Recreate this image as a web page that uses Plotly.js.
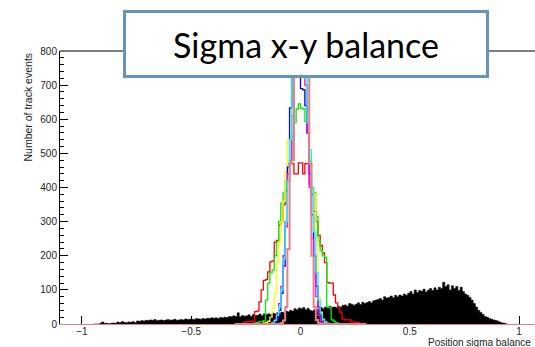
<!DOCTYPE html>
<html>
<head>
<meta charset="utf-8">
<script src="https://cdn.plot.ly/plotly-3.0.1.min.js"></script>
<style>
html,body{margin:0;padding:0;overflow:hidden;background:#fff;}
#chart{width:560px;height:347px;}
</style>
</head>
<body>
<div id="chart"></div>
<script>
// ---- data ----
const binWidth = 0.01;
const blackStart = -0.95;
const blackCounts = [
0,0,0,2,6, 2,2,1,2,3, 2,6,4,7,5, 4,6,5,7,4, 9,8,10,9,11, 10,12,11,13,10,
11,12,10,12,13, 11,12,14,11,12, 13,12,15,13,14, 14,13,16,15,14, 16,15,17,16,18,
17,18,16,19,18, 20,19,22,21,24, 22,33,21,25,23, 24,27,22,28,25, 26,29,24,30,28,
30,27,32,29,33, 31,35,33,38,36, 40,38,45,42,47, 45,48,42,46,40, 38,42,40,44,48,
45,50,47,52,49, 50,48,52,50,55, 56,52,60,58,55, 58,62,57,64,60, 63,66,62,68,70,
72,75,70,80,76, 78,82,77,84,80, 85,82,88,84,90, 95,88,100,92,98, 96,102,94,100,104,
98,106,100,108,104, 122,110,115,100,112, 104,110,98,108,95, 88,84,78,70,60,
50,40,34,28,22, 20,16,14,12,10, 8,5,3,2,0
];
const colStart = -0.30;
const redCounts = [0,0,1,2,5,7,7,8,7,36, 38,65,100,128,130,153,182,185,240,245, 290,300,350,390,420,470,470,440,440,472, 472,440,470,470,410,380,330,300,260,230, 208,180,122,120,120,85,62,48,35,14, 12,12,12,6,6,5,5,2,0,0];
const greenCounts = [0,0,0,0,0,0,0,0,1,3, 5,7,7,10,70,120,150,158,200,240, 300,355,384,420,470,478,550,590,630,645, 632,630,593,560,480,400,384,315,245,215, 200,195,50,48,12,8,4,2,0,0, 0,0,0,0,0,0,0,0,0,0];
const yellowCounts = [0,0,0,0,0,0,0,0,0,0, 0,0,1,3,5,8,20,45,90,180, 240,300,360,450,540,620,700,750,780,790, 760,720,660,580,490,400,380,250,80,35, 14,6,2,0,0,0,0,0,0,0, 0,0,0,0,0,0,0,0,0,0];
const blueCounts = [0,0,0,0,0,0,0,0,0,0, 0,0,0,0,0,0,0,2,6,15, 40,90,170,300,460,633,780,840,860,820, 690,686,640,560,440,320,200,110,50,20, 8,3,0,0,0,0,0,0,0,0, 0,0,0,0,0,0,0,0,0,0];
const magentaCounts = [0,0,0,0,0,0,0,0,0,0, 0,0,0,0,0,0,2,5,12,30, 60,110,200,285,440,480,610,760,850,880, 860,800,700,560,400,250,150,80,25,10, 4,1,0,0,0,0,0,0,0,0, 0,0,0,0,0,0,0,0,0,0];
const cyanCounts = [0,0,0,0,0,0,0,0,0,0, 0,0,0,0,0,0,1,4,10,25, 50,100,190,300,420,540,740,830,880,900, 870,820,720,590,510,400,270,150,70,30, 12,5,2,0,0,0,0,0,0,0, 0,0,0,0,0,0,0,0,0,0];
const salmonCounts = [0,0,0,0,0,0,0,0,0,0, 0,0,0,0,0,0,0,0,0,0, 1,3,10,50,220,470,480,800,920,950, 950,920,850,760,470,200,50,12,4,1, 0,0,0,0,0,0,0,0,0,0, 0,0,0,0,0,0,0,0,0,0];
const xTickVals = [-1, -0.5, 0, 0.5, 1];
const xTickText = ['\u22121', '\u22120.5', '0', '0.5', '1'];
const titleText = 'Sigma x-y balance';
const xTitle = 'Position sigma balance';
const yTitle = 'Number of track events';

// ---- build step outlines from bin edges ----
function steps(start, counts) {
  const xs = [], ys = [];
  for (let i = 0; i < counts.length; i++) {
    xs.push(+(start + i * binWidth).toFixed(4));
    ys.push(counts[i]);
  }
  xs.push(+(start + counts.length * binWidth).toFixed(4));
  ys.push(counts[counts.length - 1]);
  return {xs, ys};
}

const traces = [];
const b = steps(blackStart, blackCounts);
traces.push({type:'scatter', mode:'lines', x:b.xs, y:b.ys, line:{shape:'hv', color:'#000', width:0.5},
  fill:'tozeroy', fillcolor:'#000', hoverinfo:'skip'});

const series = [
  {c: redCounts, col: '#ff0000', w: 1.3},
  {c: greenCounts, col: '#00ee00', w: 1.3},
  {c: yellowCounts, col: '#ffff00', w: 1.3},
  {c: blueCounts, col: '#0000ff', w: 1.3},
  {c: magentaCounts, col: '#ff00ff', w: 1.3},
  {c: cyanCounts, col: '#00ffff', w: 1.3},
  {c: salmonCounts, col: 'rgb(232,128,128)', w: 2}
];
series.forEach(s => {
  const d = steps(colStart, s.c);
  traces.push({type:'scatter', mode:'lines', x:d.xs, y:d.ys, line:{shape:'hv', color:s.col, width:s.w}, hoverinfo:'skip'});
});

const tickFont = {family:'Liberation Sans, Arial, sans-serif', size:10, color:'#222'};

const layout = {
  width:560, height:347,
  margin:{l:60, r:19, t:51, b:23, pad:0},
  paper_bgcolor:'#fff', plot_bgcolor:'#fff',
  showlegend:false,
  xaxis:{range:[-1.1, 1.1], tickvals:xTickVals, ticktext:xTickText, ticks:'inside', ticklen:8, tickcolor:'#000',
    ticklabelstandoff:-2,
    showline:true, linecolor:'rgb(232,128,128)', linewidth:1, showgrid:false, zeroline:false, tickfont:tickFont},
  yaxis:{range:[0, 800], dtick:100, tick0:0, ticks:'inside', ticklen:8, tickcolor:'#000',
    minor:{dtick:20, ticks:'inside', ticklen:4, tickcolor:'#000'},
    showline:true, linecolor:'#000', linewidth:1, showgrid:false, zeroline:false, tickfont:tickFont},
  shapes:[{type:'line', xref:'paper', yref:'paper', x0:0, x1:1, y0:1, y1:1, line:{color:'#000', width:1}}],
  annotations:[
    {text:titleText, xref:'paper', yref:'paper', x:0.511, y:1.026, xanchor:'center', yanchor:'middle', showarrow:false,
     width:360, height:62, bgcolor:'#fff', bordercolor:'#6593bb', borderwidth:3, borderpad:0,
     font:{family:'Lato, Carlito, sans-serif', size:34, color:'#000'}},
    {text:yTitle, xref:'paper', yref:'paper', x:0, y:1, xshift:-33, xanchor:'center', yanchor:'top', textangle:-90,
     showarrow:false, font:{family:'Liberation Sans, Arial, sans-serif', size:10.5, color:'#222'}},
    {text:xTitle, xref:'paper', yref:'paper', x:(535 - 60 - 2) / 481, y:0, yshift:-11, xanchor:'right', yanchor:'top',
     showarrow:false, font:{family:'Liberation Sans, Arial, sans-serif', size:10, color:'#222'}}
  ]
};

Plotly.newPlot('chart', traces, layout, {staticPlot:true, displayModeBar:false});
</script>
</body>
</html>
